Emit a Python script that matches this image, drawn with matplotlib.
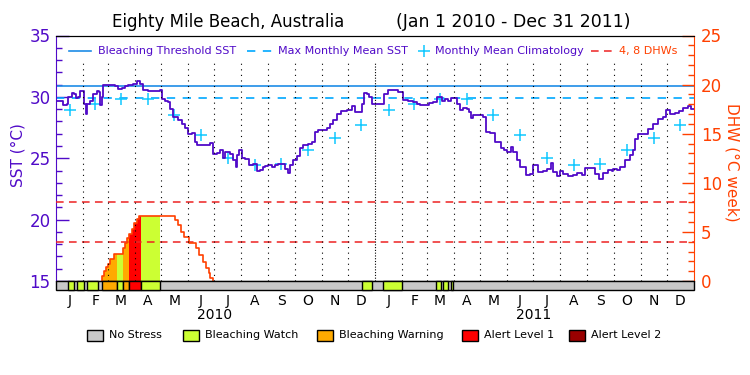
import matplotlib
matplotlib.use('Agg')
import matplotlib.pyplot as plt
import numpy as np
from matplotlib.patches import Rectangle

# days are counted from Jan 1 2010
sst_days = [0, 4.6, 8.4, 12.2, 14.1, 17.9, 20.6, 22.9, 25.5, 27.5, 31.3, 32.4, 34.3, 35.9,
            38.9, 42.7, 46.5, 49.6, 50.3, 52.2, 54.2, 58.7, 63.7, 67.5, 71.3, 75.1, 79.0,
            82.8, 88.5, 93.1, 96.1, 99.9, 105.6, 111.4, 117.1, 119.0, 120.9, 124.7, 128.5,
            130.4, 134.3, 140.0, 143.8, 147.6, 151.4, 155.3, 159.1, 161.0, 168.6, 172.4,
            176.2, 179.3, 180.1, 183.9, 187.7, 190.8, 193.4, 199.2, 202.2, 206.0, 207.6,
            209.5, 212.5, 216.3, 221.3, 225.9, 229.7, 233.5, 237.3, 239.1, 243.0, 246.8,
            250.6, 254.4, 258.2, 262.0, 265.1, 267.7, 271.5, 275.4, 279.2, 283.0, 288.7,
            292.5, 296.3, 300.1, 305.8, 309.7, 313.5, 317.3, 321.1, 326.1, 332.6, 338.3,
            342.1, 347.8, 349.7, 352.8, 355.5, 358.2, 361.2, 366.9, 372.6, 375.7, 380.2,
            386.0, 391.7, 395.5, 396.6, 403.1, 408.8, 412.6, 416.5, 422.2, 426.8, 431.7,
            435.5, 439.3, 441.2, 445.0, 448.9, 451.9, 455.7, 458.4, 462.2, 466.0, 469.8,
            472.5, 474.8, 477.5, 483.2, 485.1, 489.0, 492.0, 496.6, 500.4, 502.3, 506.1,
            508.8, 512.6, 516.4, 520.6, 523.3, 527.1, 530.9, 534.7, 537.8, 542.3, 545.4,
            549.2, 551.8, 557.6, 561.4, 566.0, 569.0, 572.9, 576.7, 580.5, 586.2, 591.9,
            595.7, 601.4, 605.3, 612.9, 616.7, 621.7, 626.3, 632.0, 635.8, 637.7, 642.3,
            645.4, 651.1, 656.8, 660.6, 662.5, 666.3, 673.9, 677.8, 683.5, 689.2, 694.9,
            698.0, 702.6, 708.3, 713.3, 717.8, 723.6, 726.2, 730]
sst_vals = [29.7, 29.7, 29.3, 29.4, 30.0, 30.3, 30.25, 29.9, 30.0, 30.47, 30.47, 29.45, 28.63, 29.45,
            29.7, 30.25, 30.47, 30.4, 29.3, 30.0, 30.93, 31.0, 30.93, 30.85, 30.67, 30.75, 30.85,
            31.0, 31.07, 31.28, 31.07, 30.58, 30.47, 30.47, 30.47, 30.58, 29.85, 29.65, 29.6,
            29.04, 28.36, 28.1, 27.8, 27.5, 27.0, 27.05, 26.33, 26.06, 26.06, 26.06,
            26.24, 26.06, 25.38, 25.44, 25.65, 25.05, 25.5, 25.33, 24.84, 24.29, 25.25,
            25.65, 25.05, 24.96, 24.43, 24.57, 24.0, 24.05, 24.3, 24.35, 24.43, 24.25,
            24.43, 24.57, 24.57, 24.16, 23.8, 24.43, 24.89, 25.16, 25.87, 26.06, 26.19,
            26.33, 27.14, 27.33, 27.33, 27.5, 27.82, 28.1, 28.58, 28.85, 28.9, 29.28,
            28.77, 28.77, 29.45, 30.31, 30.25, 29.95, 29.45, 29.4, 29.45, 30.2, 30.53,
            30.53, 30.4, 30.4, 29.72, 29.66, 29.6, 29.45, 29.3, 29.3, 29.5, 29.6,
            29.98, 29.98, 29.66, 29.85, 29.7, 29.93, 29.93, 29.45, 28.96, 29.1, 29.04,
            28.77, 28.3, 28.5, 28.5, 28.5, 28.36, 27.14, 27.06, 27.06, 26.33, 26.33,
            25.87, 25.65, 25.52, 25.92, 25.52, 24.84, 24.29, 24.29, 23.62, 23.75, 24.43,
            24.43, 23.89, 24.0, 24.16, 24.62, 23.89, 23.54, 24.0, 23.75, 23.54, 23.62,
            23.81, 23.62, 24.24, 24.24, 23.7, 23.27, 23.81, 24.08, 24.0, 24.16, 24.08,
            24.3, 24.84, 25.24, 25.65, 26.6, 26.95, 27.0, 27.41, 27.82, 28.22, 28.36,
            28.9, 28.63, 28.69, 28.85, 29.12, 29.23, 29.04, 29.04]

clim_vals = [28.9, 29.45, 29.85, 29.85, 28.5, 26.9, 25.05, 24.45, 24.5, 25.7, 26.65, 27.67]
threshold_sst = 30.9
mmm_sst = 29.9
dhw_marks = [4, 8]

dhw_days = [52.6, 55.3, 57.2, 59.1, 62.2, 66.7, 76.3, 78.9, 81.2, 83.9, 87.0, 89.6, 92.3,
            95.3, 136.5, 139.2, 143.0, 146.8, 151.8, 160.2, 164.0, 167.8, 171.6, 174.7,
            176.6, 179.3]
dhw_vals = [0.5, 1.05, 1.4, 1.73, 2.2, 2.75, 3.33, 3.9, 4.35, 4.8, 5.27, 5.95, 6.3,
            6.63, 6.22, 5.7, 5.03, 4.52, 3.9, 3.33, 2.65, 1.97, 1.3, 0.78, 0.27, 0]

# stress level: 1 watch, 2 warning, 3 alert level 1
stress_start = [14, 24, 35, 53, 70, 77, 84, 97.5, 349.8, 374.5, 434.4, 443.2, 452]
stress_end = [21, 32, 48.5, 70, 77, 84, 97.5, 119, 361.2, 396.2, 440.5, 448.2, 454.6]
stress_level = [1, 1, 1, 2, 1, 2, 3, 1, 1, 1, 1, 1, 1]
stress_names = ['No Stress', 'Bleaching Watch', 'Bleaching Warning', 'Alert Level 1', 'Alert Level 2']
stress_colors = ['#c8c8c8', '#ccff33', '#ffaa00', '#ff0000', '#990000']

month_letters = list('JFMAMJJASOND')
years = ['2010', '2011']

PURPLE = '#500ac8'
BLUE = '#1e8ce6'
CYAN = '#00a8ff'
CLIM = '#10c8ff'
RED = '#ee2222'
ORANGE = '#ff4000'

months = np.arange('2010-01', '2012-02', dtype='datetime64[M]')
mstart = (months.astype('datetime64[D]') - np.datetime64('2010-01-01')).astype(int)
mid = (mstart[:-1] + mstart[1:]) / 2.0
ndays = mstart[-1]

fig = plt.figure(figsize=(7.5, 3.75), dpi=100)
ax = fig.add_axes([56 / 750, 1 - 281 / 375, 638 / 750, 245.5 / 375])
ax2 = ax.twinx()
bax = fig.add_axes([56 / 750, 1 - 290.3 / 375, 638 / 750, 9.3 / 375])

ax.set_xlim(0, ndays)
ax.set_ylim(15, 35)
ax2.set_ylim(0, 25)

# SST side
ax.axhline(threshold_sst, color=BLUE, lw=1.2)
ax.axhline(mmm_sst, color=CYAN, lw=1.2, dashes=(5, 4.5))
ax.plot(mid, clim_vals * 2, '+', color=CLIM, ms=8, mew=1.1, ls='none')
ax.step(sst_days, sst_vals, where='post', color=PURPLE, lw=1.3)

# DHW side
for lv in dhw_marks:
    ax2.axhline(lv, color=RED, lw=1.1, dashes=(5, 3.5))

dd = np.array(dhw_days)
dv = np.array(dhw_vals)


def dhw_at(x):
    i = np.searchsorted(dd, x, side='right') - 1
    return 0.0 if i < 0 else dv[i]


for s, e, lev in zip(stress_start, stress_end, stress_level):
    xs = [s] + [d for d in dhw_days if s < d < e] + [e]
    ys = [dhw_at(x) for x in xs]
    ax2.fill_between(xs, ys, step='post', color=stress_colors[lev], lw=0)

ax2.step([dhw_days[0]] + dhw_days, [0] + dhw_vals, where='post', color=ORANGE, lw=1.2)

# month lines
for m in mstart[1:-1]:
    if m == 365:
        ax2.axvline(m, ymax=0.89, color='black', lw=0.8, dashes=(1, 1.5))
    else:
        ax2.axvline(m, ymax=0.89, color='black', lw=0.8, dashes=(1, 4))

# axes styling
ax.set_xticks([])
ax.yaxis.set_major_locator(plt.MultipleLocator(5))
ax.yaxis.set_minor_locator(plt.MultipleLocator(1))
ax.tick_params(axis='y', which='both', direction='in', colors=PURPLE, labelsize=12, pad=4,
               left=True, right=False)
ax.tick_params(axis='y', which='major', length=9.5, width=1)
ax.tick_params(axis='y', which='minor', length=4.5, width=1)
ax2.yaxis.set_major_locator(plt.MultipleLocator(5))
ax2.yaxis.set_minor_locator(plt.MultipleLocator(1))
ax2.tick_params(axis='y', which='both', direction='in', colors=ORANGE, labelsize=12, pad=5,
                left=False, right=True)
ax2.tick_params(axis='y', which='major', length=9, width=1)
ax2.tick_params(axis='y', which='minor', length=4.5, width=1)
ax.spines['left'].set_color(PURPLE)
ax.spines['right'].set_visible(False)
ax2.spines['left'].set_visible(False)
ax2.spines['right'].set_color(ORANGE)
for a in (ax, ax2):
    a.spines['top'].set_color('black')
    a.spines['bottom'].set_color('black')

fig.text(18 / 750, 1 - 155 / 375, 'SST (°C)', rotation=90, color=PURPLE, fontsize=11,
         ha='center', va='center')
fig.text(732 / 750, 1 - 162 / 375, 'DHW (°C week)', rotation=270, color=ORANGE, fontsize=11,
         ha='center', va='center')

fig.text(228 / 750, 1 - 22 / 375, 'Eighty Mile Beach, Australia', ha='center', va='center',
         fontsize=12)
fig.text(513 / 750, 1 - 22 / 375, '(Jan 1 2010 - Dec 31 2011)', ha='center', va='center',
         fontsize=12.5)

# top legend
ly = 0.937
tr = ax.transAxes
ax.plot([0.020, 0.055], [ly, ly], color=BLUE, lw=1.2, transform=tr)
ax.text(0.066, ly, 'Bleaching Threshold SST', color=PURPLE, fontsize=8, va='center', transform=tr)
ax.plot([0.300, 0.338], [ly, ly], color=CYAN, lw=1.2, dashes=(5, 4.5), transform=tr)
ax.text(0.348, ly, 'Max Monthly Mean SST', color=PURPLE, fontsize=8, va='center', transform=tr)
ax.plot([0.577], [ly], '+', color=CLIM, ms=8, mew=1.1, transform=tr)
ax.text(0.594, ly, 'Monthly Mean Climatology', color=PURPLE, fontsize=8, va='center', transform=tr)
ax.plot([0.839, 0.873], [ly, ly], color=RED, lw=1.1, dashes=(5, 3.5), transform=tr)
ax.text(0.882, ly, '4, 8 DHWs', color=ORANGE, fontsize=8, va='center', transform=tr)

# stress bar
bax.set_xlim(0, ndays)
bax.set_ylim(0, 1)
bax.add_patch(Rectangle((0, 0), ndays, 1, fc=stress_colors[0], ec='black', lw=1, clip_on=False))
for s, e, lev in zip(stress_start, stress_end, stress_level):
    bax.add_patch(Rectangle((s, 0), e - s, 1, fc=stress_colors[lev], ec='black', lw=1,
                            clip_on=False))
for sp in bax.spines.values():
    sp.set_visible(False)
bax.set_yticks([])
bax.set_xticks(mid, month_letters * 2)
bax.tick_params(axis='x', length=0, pad=3, labelsize=10)
for k, y in enumerate(years):
    bax.text(mstart[12 * k + 6], -2.66, y, ha='center', va='center', fontsize=10,
             transform=bax.get_xaxis_transform())

# stress legend
box_x = [87, 183, 317, 462, 569]
for bx, name, col in zip(box_x, stress_names, stress_colors):
    fig.patches.append(Rectangle((bx / 750, 1 - 341 / 375), 16 / 750, 11 / 375, fc=col,
                                 ec='black', lw=1, transform=fig.transFigure, figure=fig))
    fig.text((bx + 22) / 750, 1 - 335.5 / 375, name, fontsize=8, va='center')

fig.savefig('out.png', dpi=100)
